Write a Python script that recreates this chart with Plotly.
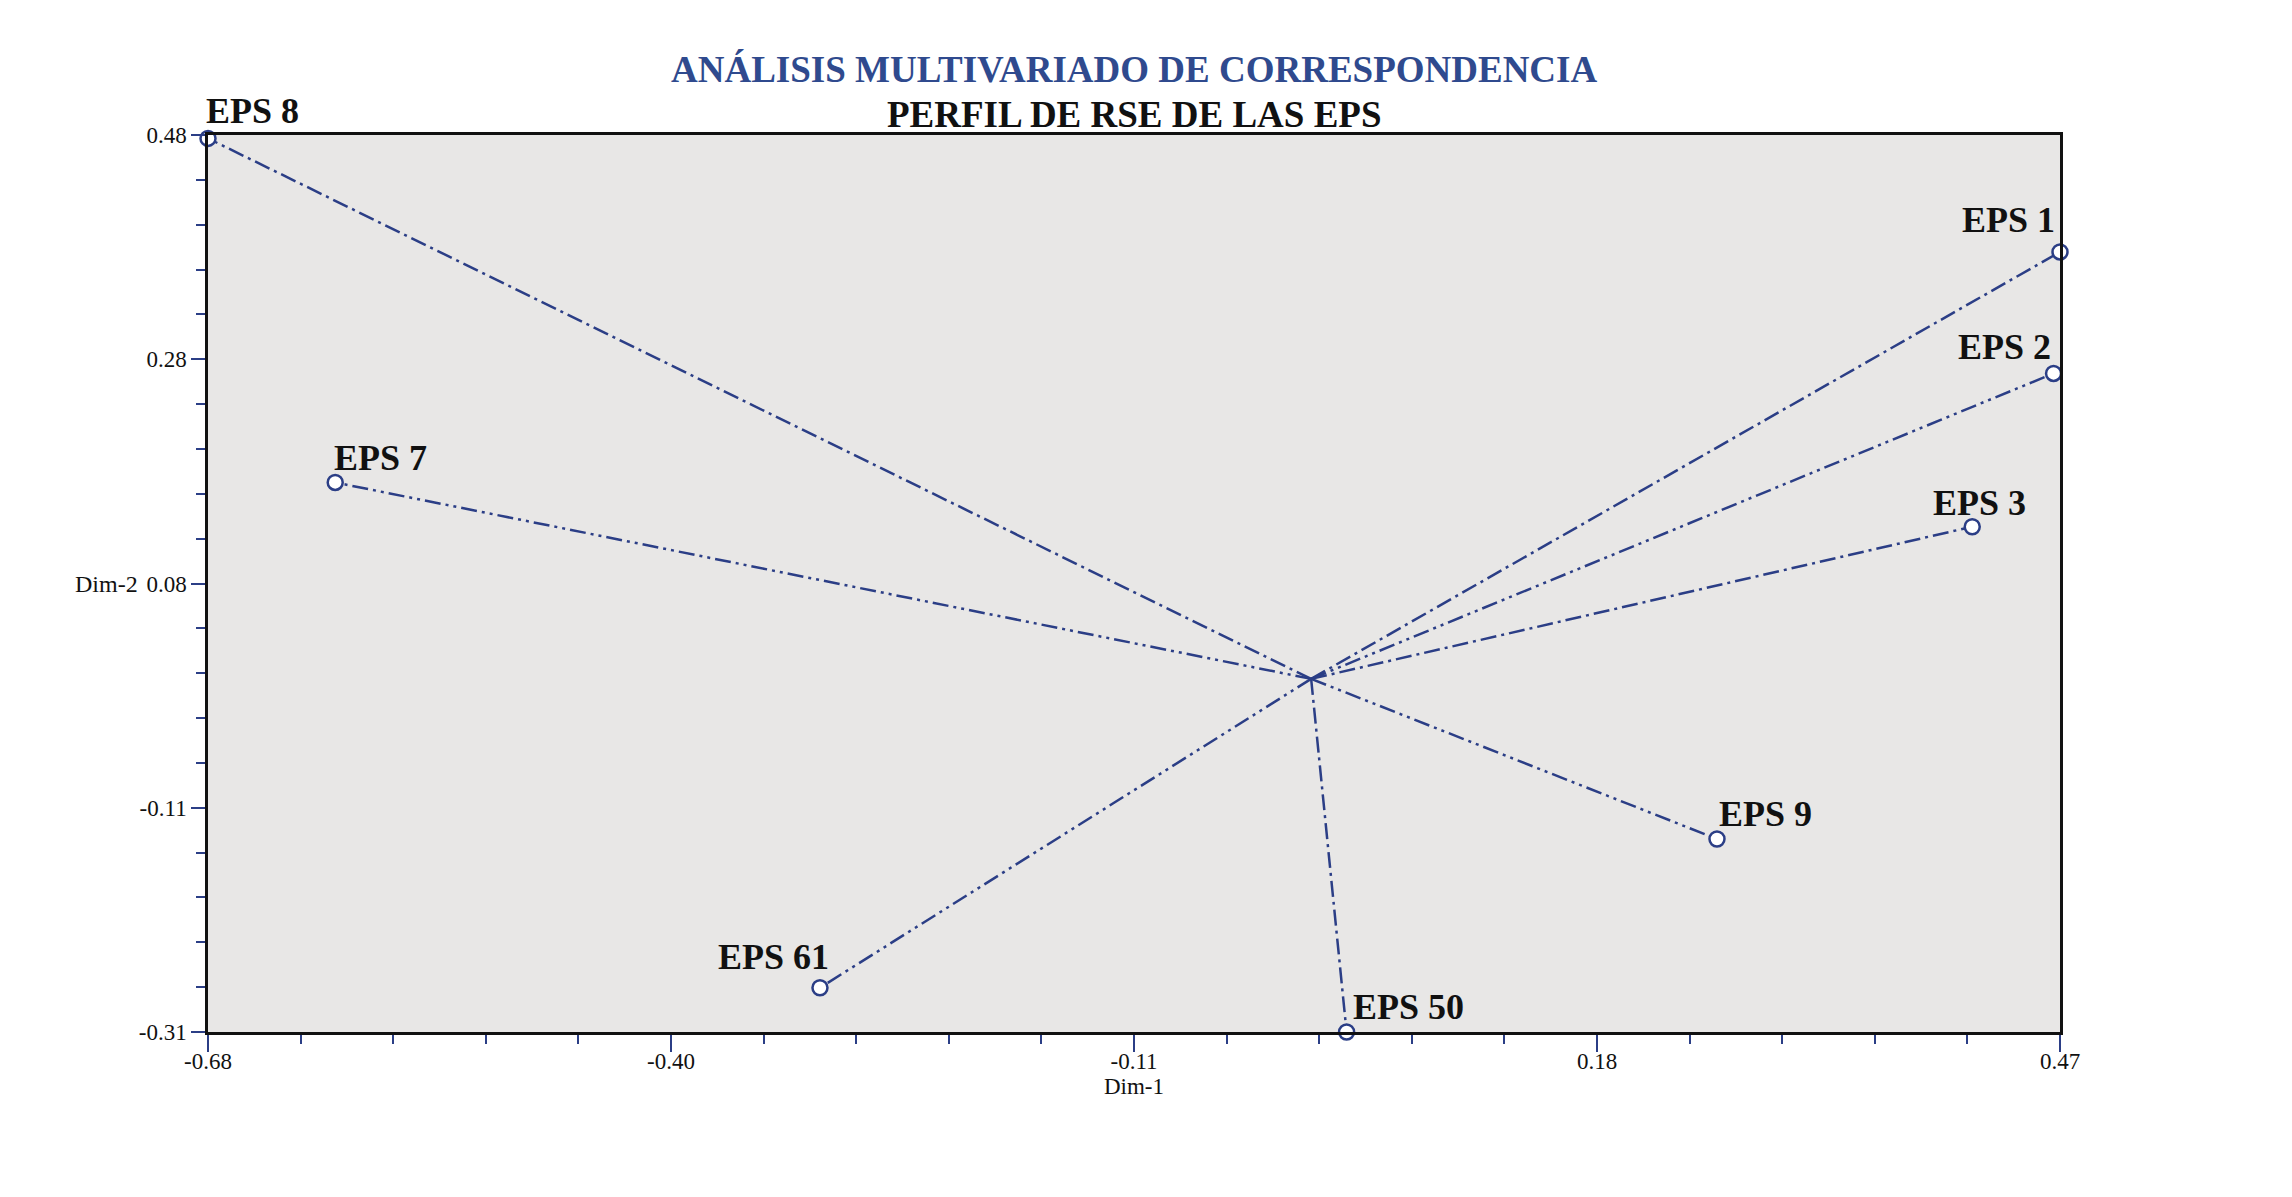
# Correspondence analysis map - EPS profile (Dim-1 / Dim-2)

import numpy as np

import plotly.graph_objects as go

# data
eps = ["EPS 1", "EPS 2", "EPS 3", "EPS 7", "EPS 8", "EPS 9", "EPS 50", "EPS 61"]
dim1 = [0.470, 0.466, 0.4155, -0.601, -0.680, 0.257, 0.027, -0.300]
dim2 = [0.377, 0.270, 0.135, 0.174, 0.477, -0.140, -0.310, -0.271]
centre = [0.005, 0.001]

x_ticktext = ["-0.68", "-0.40", "-0.11", "0.18", "0.47"]
y_ticktext = ["-0.31", "-0.11", "0.08", "0.28", "0.48"]

x_range = [-0.68, 0.47]
y_range = [-0.31, 0.48]

BLUE = "#2b3e86"
TITLE_BLUE = "#2f4a8e"
FONT = "Liberation Serif"

# label placement: anchor, x shift, y shift (px)
label_pos = {
    "EPS 1": ("right", -3, 10),
    "EPS 2": ("right", -1, 4),
    "EPS 3": ("center", 7, 2),
    "EPS 7": ("left", -3, 2),
    "EPS 8": ("left", -4, 5),
    "EPS 9": ("left", 0, 3),
    "EPS 50": ("left", 4, 3),
    "EPS 61": ("right", 11, 9),
}

dash_dot = "16px,5px,3px,5px"
dash_dot_dot = "16px,5px,3px,5px,3px,5px"
line_dash = {
    "EPS 1": dash_dot, "EPS 2": dash_dot_dot, "EPS 3": dash_dot,
    "EPS 7": dash_dot_dot, "EPS 8": dash_dot, "EPS 9": dash_dot_dot,
    "EPS 50": dash_dot, "EPS 61": dash_dot_dot,
}

fig = go.Figure()

# lines from the centre to every point
for name, x, y in zip(eps, dim1, dim2):
    fig.add_trace(go.Scatter(x=[centre[0], x], y=[centre[1], y], mode="lines",
                             line=dict(color=BLUE, width=2.5, dash=line_dash[name]),
                             hoverinfo="skip", showlegend=False, cliponaxis=False))

fig.add_trace(go.Scatter(x=dim1, y=dim2, mode="markers", text=eps,
                         marker=dict(symbol="circle", size=15, color="white",
                                     line=dict(color=BLUE, width=2.5)),
                         showlegend=False, cliponaxis=False))

for name, x, y in zip(eps, dim1, dim2):
    anchor, dx, dy = label_pos[name]
    fig.add_annotation(x=x, y=y, text="<b>" + name + "</b>", showarrow=False,
                       xanchor=anchor, yanchor="bottom", xshift=dx, yshift=dy,
                       font=dict(family=FONT, size=36, color="#111111"))

# titles
fig.add_annotation(xref="paper", yref="paper", x=0.5, y=1.0735, yanchor="middle",
                   text="<b>ANÁLISIS MULTIVARIADO DE CORRESPONDENCIA</b>", showarrow=False,
                   font=dict(family=FONT, size=37, color=TITLE_BLUE))
fig.add_annotation(xref="paper", yref="paper", x=0.5, y=1.023, yanchor="middle",
                   text="<b>PERFIL DE RSE DE LAS EPS</b>", showarrow=False,
                   font=dict(family=FONT, size=37, color="#111111"))

# horizontal y-axis title next to the middle tick label
fig.add_annotation(xref="paper", yref="y", x=0, y=np.linspace(*y_range, 5)[2],
                   xanchor="right", xshift=-68, text="Dim-2", showarrow=False,
                   font=dict(family=FONT, size=24, color="#111111"))

axis_common = dict(
    showgrid=False, zeroline=False,
    showline=True, linecolor="#111111", linewidth=2.5, mirror=True,
    ticks="outside", tickcolor=BLUE, tickwidth=2,
    tickfont=dict(family=FONT, size=23, color="#111111"),
)

fig.update_xaxes(range=x_range, tickmode="array",
                 tickvals=np.linspace(*x_range, 5), ticktext=x_ticktext, ticklen=17,
                 ticklabelstandoff=-10,
                 minor=dict(ticks="outside", tick0=x_range[0], dtick=(x_range[1] - x_range[0]) / 20,
                            ticklen=9, tickcolor=BLUE, tickwidth=2),
                 title=dict(text="Dim-1", standoff=2, font=dict(family=FONT, size=23, color="#111111")),
                 **axis_common)
fig.update_yaxes(range=y_range, tickmode="array",
                 tickvals=np.linspace(*y_range, 5), ticktext=y_ticktext, ticklen=14,
                 minor=dict(ticks="outside", tick0=y_range[0], dtick=(y_range[1] - y_range[0]) / 20,
                            ticklen=9, tickcolor=BLUE, tickwidth=2),
                 **axis_common)

fig.update_layout(
    width=2292, height=1197,
    margin=dict(l=208, r=232, t=135, b=165),
    plot_bgcolor="#e8e7e6", paper_bgcolor="white",
    font=dict(family=FONT, color="#111111"),
    showlegend=False,
)

fig.write_html("out.html", config={"displayModeBar": False},
               post_script="document.body.style.margin='0';")
